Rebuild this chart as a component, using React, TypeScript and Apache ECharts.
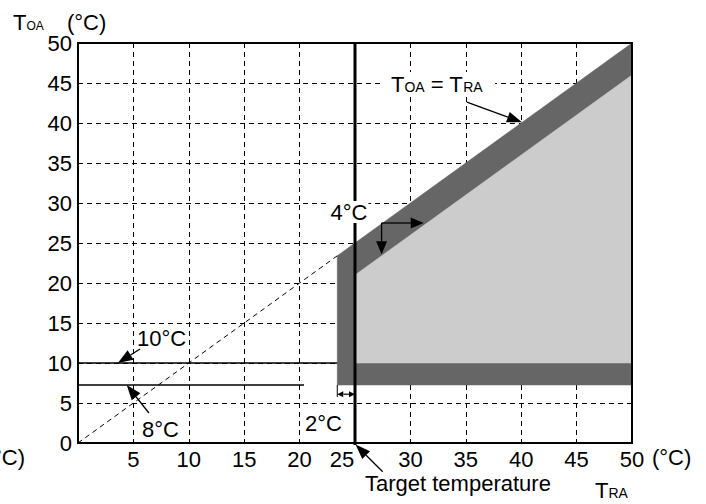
import React, { useEffect, useRef } from 'react';
import * as echarts from 'echarts';

const FONT = '"Liberation Sans", Arial, Helvetica, sans-serif';

// axis range / ticks
const axisMin = 0;
const axisMax = 50;
const tickStep = 5;

// regions (T_RA, T_OA)
const darkRegion = [[23.4, 7.25], [23.4, 23.4], [50, 50], [50, 7.25]];
const lightRegion = [[25, 10], [25, 21], [50, 46], [50, 10]];
const identityDashed = [[0, 0], [23.4, 23.4]];
const line10 = [[0, 10], [23.4, 10]];
const line8 = [[0, 7.25], [20.4, 7.25]];
const targetLine = [[25, 50], [25, -0.25]];

// annotation arrows (data coords: tail -> tip)
const arrow10 = [[5.6, 11.75], [3.6, 10]];
const arrow8 = [[6.4, 3.75], [4.4, 7.25]];
const arrowTarget = [[27.5, -3.6], [25.05, -0.2]];
const arrowIdentity = [[35.1, 42.6], [40.07, 40.1]];
const elbowCorner = [27.4, 27.5];
const elbowRight = [31.2, 27.5];
const elbowDown = [27.4, 23.6];
const span2 = [[23.4, 6.1], [25, 6.1]];
const tick2 = [[23.4, 7.25], [23.4, 5.75]];

function arrowEls(p0: number[], p1: number[], len: number, w: number, lw: number, twoWay = false) {
  const dx = p1[0] - p0[0];
  const dy = p1[1] - p0[1];
  const L = Math.hypot(dx, dy);
  const ux = dx / L, uy = dy / L;
  const nx = -uy, ny = ux;
  const b1 = [p1[0] - ux * len, p1[1] - uy * len];
  const start = twoWay ? [p0[0] + ux * len, p0[1] + uy * len] : p0;
  const els: any[] = [
    { type: 'line', z: 100, shape: { x1: start[0], y1: start[1], x2: b1[0], y2: b1[1] }, style: { stroke: '#000', lineWidth: lw } },
    { type: 'polygon', z: 100, shape: { points: [p1, [b1[0] + nx * w / 2, b1[1] + ny * w / 2], [b1[0] - nx * w / 2, b1[1] - ny * w / 2]] }, style: { fill: '#000' } },
  ];
  if (twoWay) {
    const b0 = start;
    els.push({ type: 'polygon', z: 100, shape: { points: [p0, [b0[0] + nx * w / 2, b0[1] + ny * w / 2], [b0[0] - nx * w / 2, b0[1] - ny * w / 2]] }, style: { fill: '#000' } });
  }
  return els;
}

function txt(text: string, x: number, y: number, align: string, size = 22, extra: any = {}) {
  return {
    type: 'text', z: 110,
    style: {
      text, x, y, fill: '#000', fontSize: size, fontFamily: FONT,
      align, verticalAlign: 'middle', textAlign: align, textVerticalAlign: 'middle',
      ...extra,
    },
  };
}

function richText(parts: [string, boolean][], x: number, y: number, align: string, subSize: number) {
  const text = parts.map(([s, sub]) => `{${sub ? 'b' : 'a'}|${s}}`).join('');
  return {
    type: 'text', z: 110,
    style: {
      text, x, y, align, verticalAlign: 'middle', textAlign: align, textVerticalAlign: 'middle',
      rich: {
        a: { fontSize: 22, fontFamily: FONT, fill: '#000', color: '#000', verticalAlign: 'bottom', lineHeight: 22 },
        b: { fontSize: subSize, fontFamily: FONT, fill: '#000', color: '#000', verticalAlign: 'bottom', lineHeight: 20, padding: [0, 0, 1, 0] },
      },
    },
  };
}

function polygonSeries(points: number[][], color: string) {
  return {
    type: 'custom',
    data: [[points[0][0], points[0][1]]],
    clip: false,
    z: 3,
    renderItem: (_p: any, api: any) => ({
      type: 'polygon',
      shape: { points: points.map((pt) => api.coord(pt)) },
      style: { fill: color, stroke: color, lineWidth: 0.5 },
    }),
  };
}

function lineSeries(data: number[][], width: number, type: any = 'solid', z = 4) {
  return {
    type: 'line', data, showSymbol: false, symbol: 'none', clip: false, z,
    lineStyle: { color: '#000', width, type },
  };
}

export default function App() {
  const ref = useRef<HTMLDivElement>(null);
  useEffect(() => {
    document.body.style.margin = '0';
    const chart = echarts.init(ref.current!, null, { renderer: 'svg' });
    const labelBase = { color: '#000', fontSize: 22, fontFamily: FONT, lineHeight: 20 };
    chart.setOption({
      animation: false,
      grid: { left: 78, right: 74, top: 43, bottom: 61, containLabel: false },
      xAxis: {
        type: 'value', min: axisMin, max: axisMax, interval: tickStep,
        axisLine: { show: false }, axisTick: { show: false },
        splitLine: { show: true, lineStyle: { color: '#000', width: 1, type: [5, 4] } },
        axisLabel: {
          ...labelBase, margin: 6,
          formatter: (v: number) => (v === 0 ? '' : v === 25 ? '{s|25}' : String(v)),
          rich: { s: { ...labelBase, padding: [0, 26, 0, 0] } },
        },
      },
      yAxis: {
        type: 'value', min: axisMin, max: axisMax, interval: tickStep,
        axisLine: { show: false }, axisTick: { show: false },
        splitLine: { show: true, lineStyle: { color: '#000', width: 1, type: [5, 4] } },
        axisLabel: { ...labelBase, margin: 6 },
      },
      series: [
        polygonSeries(darkRegion, '#666666'),
        polygonSeries(lightRegion, '#cccccc'),
        lineSeries(identityDashed, 1, [5, 4]),
        lineSeries(line10, 1.5),
        lineSeries(line8, 1.5),
        lineSeries(targetLine, 3, 'solid', 5),
      ],
    });

    const px = (p: number[]) => chart.convertToPixel({ gridIndex: 0 }, p) as number[];
    const tl = px([axisMin, axisMax]);
    const br = px([axisMax, axisMin]);
    const graphics: any[] = [
      { type: 'rect', z: 90, shape: { x: tl[0], y: tl[1], width: br[0] - tl[0], height: br[1] - tl[1] }, style: { fill: 'none', stroke: '#000', lineWidth: 2 } },
      ...arrowEls(px(arrow10[0]), px(arrow10[1]), 15, 11, 1.3),
      ...arrowEls(px(arrow8[0]), px(arrow8[1]), 15, 11, 1.3),
      ...arrowEls(px(arrowTarget[0]), px(arrowTarget[1]), 15, 11, 1.3),
      ...arrowEls(px(arrowIdentity[0]), px(arrowIdentity[1]), 15, 11, 1.3),
      ...arrowEls(px(elbowCorner), px(elbowRight), 13, 11, 1.3),
      ...arrowEls(px(elbowCorner), px(elbowDown), 13, 11, 1.3),
      ...arrowEls(px(span2[0]), px(span2[1]), 6, 6, 1.2, true),
      { type: 'line', z: 100, shape: { x1: px(tick2[0])[0], y1: px(tick2[0])[1], x2: px(tick2[1])[0], y2: px(tick2[1])[1] }, style: { stroke: '#000', lineWidth: 1 } },
      txt('10°C', 137, 338, 'left'),
      txt('8°C', 142, 429, 'left'),
      txt('2°C', 305, 423, 'left'),
      txt('4°C', 349, 212, 'center', 22, { backgroundColor: '#fff', padding: [0, 1] }),
      { type: 'rect', z: 105, shape: { x: 381, y: 72, width: 114, height: 24 }, style: { fill: '#fff' } },
      richText([['T', false], ['OA', true], [' = T', false], ['RA', true]], 391, 84, 'left', 14),
      txt('Target temperature', 365, 483, 'left', 22, { lineHeight: 20 }),
      richText([['T', false], ['RA', true]], 595, 490, 'left', 14),
      txt('(°C)', 652, 457, 'left'),
      txt('(°C)', 25, 457, 'right'),
      richText([['T', false], ['OA', true]], 13, 22, 'left', 12),
      txt('(°C)', 67, 22, 'left'),
    ];
    chart.setOption({ graphic: graphics });
    return () => chart.dispose();
  }, []);
  return <div ref={ref} style={{ width: 706, height: 504 }} />;
}
